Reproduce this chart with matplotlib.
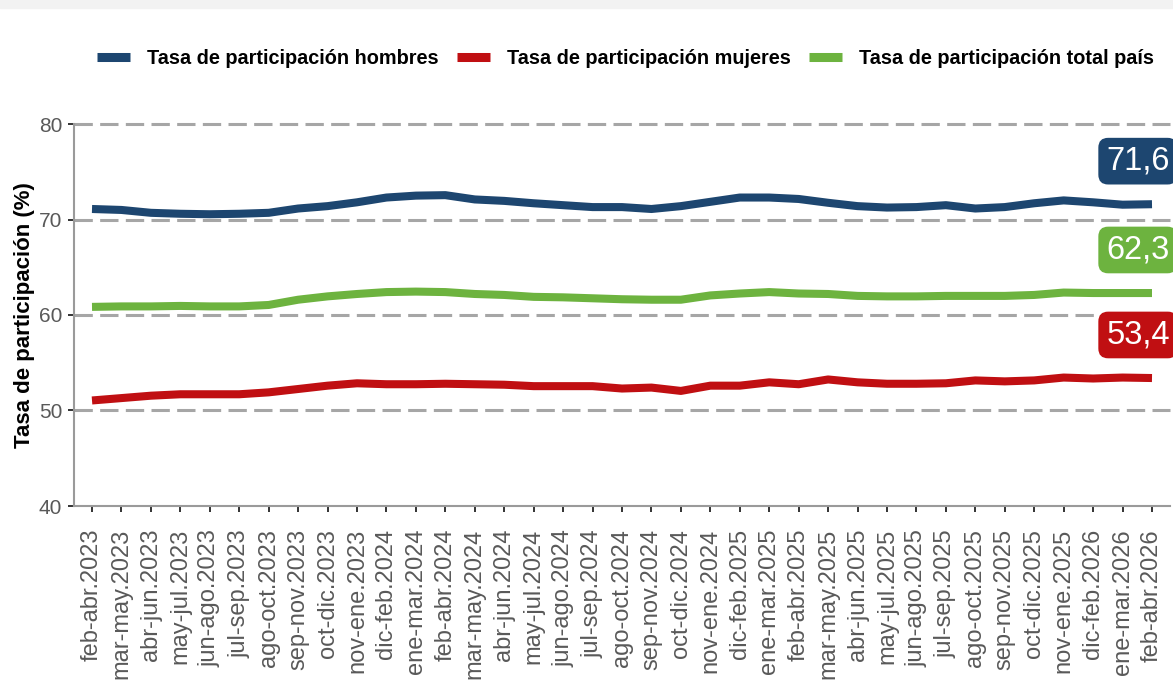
import matplotlib
matplotlib.use("Agg")
import matplotlib.pyplot as plt
from matplotlib.patches import Rectangle

plt.rcParams['font.family'] = ['Liberation Sans', 'DejaVu Sans']

periodos = ["feb-abr.2023", "mar-may.2023", "abr-jun.2023", "may-jul.2023", "jun-ago.2023",
            "jul-sep.2023", "ago-oct.2023", "sep-nov.2023", "oct-dic.2023", "nov-ene.2023",
            "dic-feb.2024", "ene-mar.2024", "feb-abr.2024", "mar-may.2024", "abr-jun.2024",
            "may-jul.2024", "jun-ago.2024", "jul-sep.2024", "ago-oct.2024", "sep-nov.2024",
            "oct-dic.2024", "nov-ene.2024", "dic-feb.2025", "ene-mar.2025", "feb-abr.2025",
            "mar-may.2025", "abr-jun.2025", "may-jul.2025", "jun-ago.2025", "jul-sep.2025",
            "ago-oct.2025", "sep-nov.2025", "oct-dic.2025", "nov-ene.2025", "dic-feb.2026",
            "ene-mar.2026", "feb-abr.2026"]

hombres = [71.1, 71.0, 70.7, 70.6, 70.55, 70.6, 70.7, 71.15, 71.4, 71.8,
           72.3, 72.5, 72.55, 72.1, 71.95, 71.7, 71.5, 71.3, 71.3, 71.1,
           71.4, 71.85, 72.3, 72.3, 72.15, 71.75, 71.4, 71.25, 71.3, 71.5,
           71.15, 71.3, 71.7, 72.0, 71.8, 71.55, 71.6]
mujeres = [51.05, 51.3, 51.55, 51.7, 51.7, 51.7, 51.9, 52.25, 52.6, 52.85,
           52.75, 52.75, 52.8, 52.75, 52.7, 52.55, 52.55, 52.55, 52.3, 52.4,
           52.05, 52.6, 52.6, 52.95, 52.75, 53.25, 52.95, 52.8, 52.8, 52.85,
           53.15, 53.05, 53.15, 53.45, 53.35, 53.45, 53.4]
total = [60.85, 60.9, 60.9, 60.95, 60.9, 60.9, 61.05, 61.6, 61.95, 62.2,
         62.4, 62.45, 62.4, 62.2, 62.1, 61.9, 61.85, 61.75, 61.65, 61.6,
         61.6, 62.05, 62.25, 62.4, 62.25, 62.2, 62.0, 61.95, 61.95, 62.0,
         62.0, 62.0, 62.1, 62.35, 62.3, 62.3, 62.3]

series_names = ["Tasa de participación hombres", "Tasa de participación mujeres",
                "Tasa de participación total país"]
colors = ["#1d4670", "#c00f12", "#6db33f"]
yticks = [40, 50, 60, 70, 80]

W, H = 1173, 694
fig = plt.figure(figsize=(W / 100, H / 100), dpi=100)
fig.patches.append(Rectangle((0, 1 - 8 / H), 1, 8 / H, transform=fig.transFigure,
                             color="#f2f2f2", zorder=0))

ax = fig.add_axes([74 / W, 1 - 506 / H, (1170 - 74) / W, (506 - 124) / H])
x = list(range(len(periodos)))
sp = (1152 - 92) / 36
ax.set_xlim(-18 / sp, 36 + 18 / sp)
ax.set_ylim(40, 80)

for yv in yticks[1:]:
    ax.axhline(yv, color="#a6a6a6", lw=2.2, linestyle=(0, (6, 2.4)), zorder=1, clip_on=False)

lines = []
for vals, c, name in zip([hombres, mujeres, total], colors, series_names):
    ln, = ax.plot(x, vals, color=c, lw=5.8, solid_joinstyle="round", solid_capstyle="butt",
                  label=name, zorder=3)
    lines.append(ln)
    lab = f"{vals[-1]:.1f}".replace(".", ",")
    ax.annotate(lab, xy=(x[-1], vals[-1]), xytext=(-33, 31), textcoords="offset points",
                ha="left", va="center", color="white", fontsize=23.5,
                bbox=dict(boxstyle="round,pad=0.24,rounding_size=0.3", fc=c, ec="none"),
                annotation_clip=False, zorder=5)

ax.set_yticks(yticks)
ax.set_xticks(x)
ax.set_xticklabels(periodos, rotation=90, fontsize=17, color="#595959")
ax.tick_params(axis="y", labelsize=15, labelcolor="#595959", length=4.5, width=1.4,
               color="#333333", pad=4)
ax.tick_params(axis="x", length=4.5, width=1.4, color="#333333", pad=12)

for s in ["top", "right"]:
    ax.spines[s].set_visible(False)
for s in ["left", "bottom"]:
    ax.spines[s].set_color("#9a9a9a")
    ax.spines[s].set_linewidth(1.5)

ax.set_ylabel("Tasa de participación (%)", fontsize=16, fontweight="bold", color="black",
              labelpad=3)

leg = fig.legend(handles=lines, loc="center left", bbox_to_anchor=(97 / W, 1 - 58 / H),
                 ncol=3, frameon=False, prop={"weight": "bold", "size": 14.3},
                 handlelength=1.67, handletextpad=0.86, columnspacing=0.9,
                 borderpad=0, borderaxespad=0)
for lh in leg.get_lines():
    lh.set_linewidth(6.5)

fig.savefig("out.png", dpi=100)
